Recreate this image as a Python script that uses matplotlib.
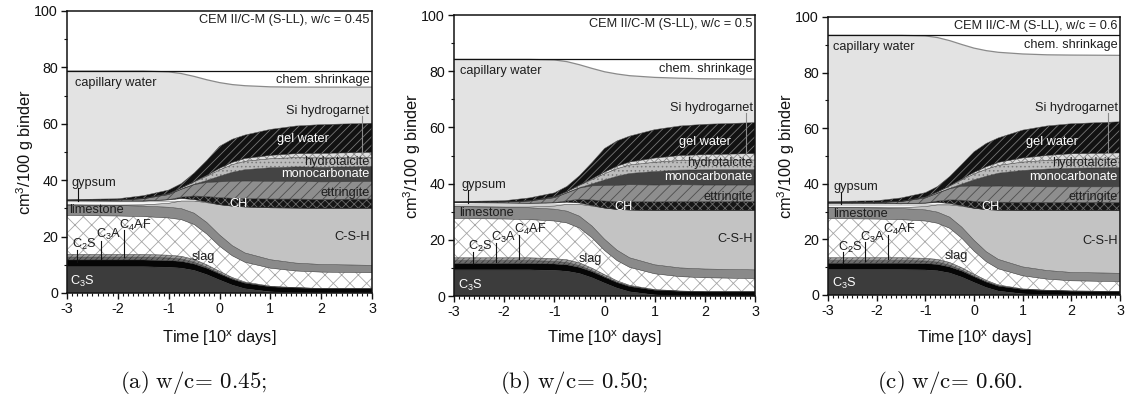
import numpy as np
import matplotlib
matplotlib.use('Agg')
import matplotlib.pyplot as plt

plt.rcParams['font.family'] = ['Liberation Sans', 'DejaVu Sans']
plt.rcParams['mathtext.fontset'] = 'cm'
plt.rcParams['mathtext.default'] = 'regular'
plt.rcParams['hatch.linewidth'] = 0.6

# log10 of hydration time in days
X = [-3, -2, -1.5, -1, -0.75, -0.5, -0.25, 0, 0.25, 0.5, 1, 1.5, 2, 3]

# ---- (a) w/c = 0.45 : phase volumes (cm3/100 g binder), bottom -> top
A_C3S = [9.3, 9.3, 9.3, 9.1, 8.8, 8.0, 6.5, 4.6, 2.8, 1.5, 0.4, 0.1, 0.0, 0.0]
A_C2S = [2.4, 2.4, 2.4, 2.4, 2.4, 2.3, 2.3, 2.2, 2.1, 2.0, 1.8, 1.7, 1.6, 1.5]
A_C3A = [1.0, 1.0, 1.0, 0.9, 0.8, 0.6, 0.3, 0.1, 0, 0, 0, 0, 0, 0]
A_C4AF = [1.0, 1.0, 1.0, 1.0, 1.0, 1.0, 0.9, 0.8, 0.6, 0.4, 0.2, 0.1, 0, 0]
A_SLAG = [13.8, 13.6, 13.4, 13.2, 13.0, 12.4, 10.9, 8.9, 7.7, 7.0, 6.4, 5.9, 5.8, 5.7]
A_LIME = [3.7, 3.7, 3.7, 3.8, 3.9, 4.0, 4.1, 4.0, 3.6, 3.3, 3.0, 2.8, 2.7, 2.6]
A_CSH = [0, 0.1, 0.4, 1.4, 2.7, 4.3, 7.0, 10.7, 14.0, 16.3, 18.4, 19.5, 19.9, 20.2]
A_GYP = [1.5, 1.5, 1.4, 1.2, 0.9, 0.5, 0.2, 0, 0, 0, 0, 0, 0, 0]
A_CH = [0, 0, 0, 0.1, 0.5, 1.3, 2.0, 2.5, 2.8, 3.0, 3.1, 3.2, 3.2, 3.3]
A_ETT = [0.2, 0.4, 0.8, 1.8, 2.8, 4.0, 5.0, 5.6, 6.0, 6.2, 6.3, 6.3, 6.2, 6.2]
A_MONO = [0, 0, 0, 0, 0, 0.1, 0.7, 2.0, 3.2, 4.0, 4.8, 5.1, 5.2, 5.3]
A_HT = [0, 0, 0.1, 0.3, 0.5, 0.9, 1.5, 2.2, 2.7, 3.0, 3.2, 3.3, 3.3, 3.3]
A_HG = [0, 0, 0, 0, 0, 0.1, 0.3, 0.6, 0.8, 1.0, 1.2, 1.4, 1.6, 1.8]
A_GEL = [0.2, 0.4, 1.0, 1.3, 1.5, 3.0, 5.3, 7.8, 8.2, 8.3, 9.2, 9.8, 10.2, 10.3]
A_CAP = [45.6, 45.3, 44.2, 41.9, 39.0, 34.3, 28.6, 22.6, 19.4, 17.5, 15.1, 13.8, 13.3, 12.8]
A_SHR = [0, 0, 0, 0.3, 0.9, 1.9, 3.1, 4.1, 4.8, 5.2, 5.6, 5.7, 5.7, 5.7]

# ---- (b) w/c = 0.50
B_C3S = [9.3, 9.3, 9.3, 9.1, 8.8, 8.0, 6.5, 4.6, 2.8, 1.5, 0.4, 0.1, 0.0, 0.0]
B_C2S = [2.3, 2.3, 2.3, 2.3, 2.3, 2.2, 2.2, 2.1, 2.0, 1.9, 1.7, 1.6, 1.5, 1.5]
B_C3A = [1.0, 1.0, 1.0, 0.9, 0.8, 0.6, 0.3, 0.1, 0, 0, 0, 0, 0, 0]
B_C4AF = [1.0, 1.0, 1.0, 1.0, 1.0, 1.0, 0.9, 0.8, 0.6, 0.4, 0.2, 0.1, 0, 0]
B_SLAG = [14.0, 13.8, 13.6, 13.4, 13.1, 12.4, 10.8, 8.6, 7.2, 6.4, 5.6, 5.1, 5.0, 4.7]
B_LIME = [4.2, 4.2, 4.2, 4.2, 4.2, 4.2, 4.2, 4.0, 3.7, 3.4, 3.2, 3.1, 3.1, 3.1]
B_CSH = [0, 0.1, 0.3, 1.1, 2.4, 4.2, 7.1, 11.1, 14.5, 17.0, 19.3, 20.4, 20.8, 21.1]
B_GYP = [1.4, 1.4, 1.3, 1.1, 0.8, 0.5, 0.2, 0, 0, 0, 0, 0, 0, 0]
B_CH = [0, 0, 0, 0.1, 0.5, 1.3, 2.0, 2.5, 2.8, 3.0, 3.1, 3.2, 3.2, 3.2]
B_ETT = [0.2, 0.4, 0.8, 1.8, 2.8, 4.0, 5.0, 5.5, 5.8, 6.0, 6.0, 6.0, 5.9, 5.9]
B_MONO = [0, 0, 0, 0, 0, 0.1, 0.7, 2.0, 3.2, 4.0, 4.8, 5.2, 5.4, 5.5]
B_HT = [0, 0, 0.1, 0.3, 0.5, 0.9, 1.5, 2.2, 2.7, 3.0, 3.3, 3.4, 3.4, 3.4]
B_HG = [0, 0, 0, 0, 0, 0.1, 0.3, 0.6, 0.9, 1.1, 1.5, 1.8, 2.0, 2.3]
B_GEL = [0.2, 0.4, 1.0, 1.4, 1.8, 3.3, 5.8, 8.4, 9.0, 9.2, 10.1, 10.5, 10.8, 11.0]
B_CAP = [50.6, 50.3, 49.3, 47.3, 44.4, 39.5, 33.5, 27.3, 23.8, 21.5, 18.6, 17.0, 16.2, 15.5]
B_SHR = [0, 0, 0, 0.2, 0.8, 1.9, 3.2, 4.4, 5.2, 5.8, 6.4, 6.7, 6.9, 7.0]

# ---- (c) w/c = 0.60
C_C3S = [9.1, 9.1, 9.1, 9.0, 8.7, 7.9, 6.4, 4.5, 2.7, 1.4, 0.4, 0.1, 0.0, 0.0]
C_C2S = [2.3, 2.3, 2.3, 2.3, 2.3, 2.2, 2.2, 2.1, 2.0, 1.8, 1.6, 1.5, 1.4, 1.3]
C_C3A = [1.0, 1.0, 1.0, 0.9, 0.8, 0.6, 0.3, 0.1, 0, 0, 0, 0, 0, 0]
C_C4AF = [1.0, 1.0, 1.0, 1.0, 1.0, 1.0, 0.9, 0.8, 0.6, 0.4, 0.2, 0.1, 0, 0]
C_SLAG = [14.1, 13.9, 13.7, 13.4, 13.0, 12.3, 10.6, 8.3, 6.7, 5.8, 4.7, 4.0, 3.7, 3.5]
C_LIME = [4.0, 4.0, 4.0, 4.0, 4.0, 4.0, 4.0, 3.9, 3.6, 3.4, 3.2, 3.1, 3.0, 3.0]
C_CSH = [0, 0.1, 0.3, 1.2, 2.6, 4.4, 7.5, 11.5, 15.1, 17.7, 20.2, 21.5, 22.2, 22.5]
C_GYP = [1.5, 1.5, 1.4, 1.2, 0.9, 0.5, 0.2, 0, 0, 0, 0, 0, 0, 0]
C_CH = [0, 0, 0, 0.1, 0.5, 1.3, 2.0, 2.5, 2.7, 2.9, 3.0, 3.0, 3.0, 3.0]
C_ETT = [0.2, 0.4, 0.8, 1.8, 2.8, 4.0, 5.0, 5.5, 5.7, 5.8, 5.7, 5.6, 5.6, 5.6]
C_MONO = [0, 0, 0, 0, 0, 0.1, 0.8, 2.2, 3.6, 4.6, 5.8, 6.4, 6.7, 6.9]
C_HT = [0, 0, 0.1, 0.3, 0.5, 0.9, 1.5, 2.1, 2.5, 2.8, 3.0, 3.1, 3.2, 3.2]
C_HG = [0, 0, 0, 0, 0, 0.1, 0.3, 0.6, 0.9, 1.1, 1.5, 1.8, 2.0, 2.1]
C_GEL = [0.4, 0.6, 1.2, 1.6, 1.9, 3.3, 5.3, 7.4, 8.4, 8.8, 10.0, 10.6, 10.8, 11.2]
C_CAP = [59.8, 59.5, 58.5, 56.4, 53.6, 48.9, 43.1, 37.3, 33.4, 30.8, 27.4, 25.6, 24.7, 23.9]
C_SHR = [0, 0, 0, 0.2, 0.8, 1.9, 3.3, 4.6, 5.5, 6.1, 6.7, 7.0, 7.1, 7.2]

TITLES = ['CEM II/C-M (S-LL), w/c = 0.45', 'CEM II/C-M (S-LL), w/c = 0.5',
          'CEM II/C-M (S-LL), w/c = 0.6']
CAPTIONS = [r'$\mathrm{(a)\ w/c\!=\!\ 0.45;}$', r'$\mathrm{(b)\ w/c\!=\!\ 0.50;}$',
            r'$\mathrm{(c)\ w/c\!=\!\ 0.60.}$']

# phase styles: facecolor, hatch, hatch colour
STYLE = [
    ('#3c3c3c', None, None),          # C3S
    ('#060606', None, None),          # C2S
    ('#6c6c6c', '//////', '#3a3a3a'), # C3A
    ('#9a9a9a', '//////', '#5a5a5a'), # C4AF
    ('#ffffff', 'xx', '#a6a6a6'),     # slag
    ('#8a8a8a', None, None),          # limestone
    ('#c3c3c3', None, None),          # C-S-H
    ('#f6f6f6', '-----', '#a0a0a0'),  # gypsum
    ('#151515', 'xxxx', '#6a6a6a'),   # CH
    ('#8e8e8e', '///', '#4e4e4e'),    # ettringite
    ('#444444', None, None),          # monocarbonate
    ('#bcbcbc', '....', '#7a7a7a'),   # hydrotalcite
    ('#dedede', 'xxxx', '#8a8a8a'),   # Si hydrogarnet
    ('#121212', '////', '#777777'),   # gel water
    ('#e3e3e3', None, None),          # capillary water
    ('#ffffff', None, None),          # chem. shrinkage
]

PANELS = [
    [A_C3S, A_C2S, A_C3A, A_C4AF, A_SLAG, A_LIME, A_CSH, A_GYP, A_CH, A_ETT,
     A_MONO, A_HT, A_HG, A_GEL, A_CAP, A_SHR],
    [B_C3S, B_C2S, B_C3A, B_C4AF, B_SLAG, B_LIME, B_CSH, B_GYP, B_CH, B_ETT,
     B_MONO, B_HT, B_HG, B_GEL, B_CAP, B_SHR],
    [C_C3S, C_C2S, C_C3A, C_C4AF, C_SLAG, C_LIME, C_CSH, C_GYP, C_CH, C_ETT,
     C_MONO, C_HT, C_HG, C_GEL, C_CAP, C_SHR],
]

AX_RECTS = [(0.0596, 0.2657, 0.2711, 0.7068),
            (0.4036, 0.2581, 0.2676, 0.7043),
            (0.7360, 0.2607, 0.2596, 0.6967)]
YLAB_X = [25, 412, 786]
CAP_X = [194, 574, 950]

# label placements per panel: text, x, y, ha, colour
DARK, WHITE = '#1e1e1e', 'white'
LABELS = [
    [('capillary water', -2.85, 74.6, 'left', DARK), ('chem. shrinkage', 2.95, 75.6, 'right', DARK),
     ('Si hydrogarnet', 2.95, 64.6, 'right', DARK), ('gel water', 1.65, 54.6, 'center', WHITE),
     ('hydrotalcite', 2.95, 46.4, 'right', DARK), ('monocarbonate', 2.95, 42.2, 'right', WHITE),
     ('ettringite', 2.95, 35.6, 'right', DARK), ('CH', 0.38, 31.6, 'center', WHITE),
     ('C-S-H', 2.95, 19.8, 'right', DARK), ('slag', -0.32, 12.9, 'center', DARK),
     ('limestone', -2.95, 29.3, 'left', DARK), ('gypsum', -2.92, 39.1, 'left', DARK),
     ('C$_2$S', -2.9, 17.2, 'left', DARK), ('C$_3$A', -2.44, 20.7, 'left', DARK),
     ('C$_4$AF', -1.98, 24.0, 'left', DARK), ('C$_3$S', -2.94, 4.0, 'left', WHITE)],
    [('capillary water', -2.88, 80.1, 'left', DARK), ('chem. shrinkage', 2.95, 80.8, 'right', DARK),
     ('Si hydrogarnet', 2.95, 66.8, 'right', DARK), ('gel water', 2.0, 54.9, 'center', WHITE),
     ('hydrotalcite', 2.95, 47.2, 'right', DARK), ('monocarbonate', 2.95, 42.2, 'right', WHITE),
     ('ettringite', 2.95, 35.3, 'right', DARK), ('CH', 0.38, 31.8, 'center', WHITE),
     ('C-S-H', 2.95, 20.2, 'right', DARK), ('slag', -0.29, 13.0, 'center', DARK),
     ('limestone', -2.9, 29.4, 'left', DARK), ('gypsum', -2.86, 39.5, 'left', DARK),
     ('C$_2$S', -2.72, 17.6, 'left', DARK), ('C$_3$A', -2.26, 20.9, 'left', DARK),
     ('C$_4$AF', -1.80, 23.6, 'left', DARK), ('C$_3$S', -2.92, 3.9, 'left', WHITE)],
    [('capillary water', -2.9, 89.2, 'left', DARK), ('chem. shrinkage', 2.95, 89.9, 'right', DARK),
     ('Si hydrogarnet', 2.95, 67.4, 'right', DARK), ('gel water', 1.6, 55.1, 'center', WHITE),
     ('hydrotalcite', 2.95, 47.3, 'right', DARK), ('monocarbonate', 2.95, 42.3, 'right', WHITE),
     ('ettringite', 2.95, 35.1, 'right', DARK), ('CH', 0.33, 31.5, 'center', WHITE),
     ('C-S-H', 2.95, 19.5, 'right', DARK), ('slag', -0.37, 14.0, 'center', DARK),
     ('limestone', -2.9, 29.0, 'left', DARK), ('gypsum', -2.88, 38.9, 'left', DARK),
     ('C$_2$S', -2.8, 17.1, 'left', DARK), ('C$_3$A', -2.35, 20.7, 'left', DARK),
     ('C$_4$AF', -1.87, 23.4, 'left', DARK), ('C$_3$S', -2.92, 4.2, 'left', WHITE)],
]
# leader lines: x, y0, y1
LEADERS = [
    [(-2.78, 37.3, 32.6), (-2.81, 15.3, 11.1), (-2.34, 18.3, 11.9), (-1.87, 22.3, 12.7)],
    [(-2.73, 37.6, 33.0), (-2.63, 15.7, 11.4), (-2.17, 19.0, 12.2), (-1.70, 21.8, 13.0)],
    [(-2.73, 37.0, 32.8), (-2.70, 15.4, 11.2), (-2.25, 18.9, 12.2), (-1.77, 21.6, 13.0)],
]
HG_LEADER = [(2.80, 62.8, 50.0), (2.81, 65.0, 50.8), (2.76, 65.6, 51.2)]

fig = plt.figure(figsize=(11.25, 3.99), dpi=100)
W, H = 1125, 399

for k, phases in enumerate(PANELS):
    ax = fig.add_axes(AX_RECTS[k])
    xs = np.array(X, dtype=float)
    low = np.zeros_like(xs)
    tops = []
    for vals, (fc, hatch, hc) in zip(phases, STYLE):
        high = low + np.array(vals, dtype=float)
        ax.fill_between(xs, low, high, facecolor=fc, hatch=hatch,
                        edgecolor=(hc if hc else 'none'), linewidth=0, zorder=1)
        tops.append(high)
        low = high
    # boundaries between phases
    for t in tops[:-2]:
        ax.plot(xs, t, color='#2b2b2b', lw=0.35, zorder=2)
    ax.plot(xs, tops[-2], color='#8a8a8a', lw=0.9, zorder=2)
    ax.plot(xs, tops[-1], color='#111111', lw=0.9, zorder=2)

    for txt, tx, ty, ha, col in LABELS[k]:
        ax.text(tx, ty, txt, ha=ha, va='center', color=col, fontsize=9.2, zorder=4)
    for lx, y0, y1 in LEADERS[k]:
        ax.plot([lx, lx], [y0, y1], color='#111111', lw=0.8, zorder=3)
    lx, y0, y1 = HG_LEADER[k]
    ax.plot([lx, lx], [y0, y1], color='#8a8a8a', lw=0.8, zorder=3)

    ax.text(2.95, 96.8, TITLES[k], ha='right', va='center', color=DARK,
            fontsize=9.2, zorder=4)

    ax.set_xlim(-3, 3)
    ax.set_ylim(0, 100)
    ax.set_xticks([-3, -2, -1, 0, 1, 2, 3])
    ax.set_xticklabels(['-3', '-2', '-1', '0', '1', '2', '3'])
    ax.set_xticks(np.arange(-3, 3.001, 0.1), minor=True)
    ax.set_yticks([0, 20, 40, 60, 80, 100])
    ax.set_yticks([10, 30, 50, 70, 90], minor=True)
    ax.tick_params(which='major', direction='out', length=4.5, width=1.0,
                   labelsize=10.3, pad=2, colors='#111111')
    ax.tick_params(which='minor', direction='out', length=2.5, width=0.8,
                   colors='#111111')
    for sp in ax.spines.values():
        sp.set_linewidth(1.1)
        sp.set_color('#111111')
        sp.set_zorder(5)

    cx = AX_RECTS[k][0] + AX_RECTS[k][2] / 2
    fig.text(cx, 1 - 338 / H, r'Time [10$^x$ days]', ha='center', va='center',
             fontsize=11.8, color='#111111')
    fig.text(YLAB_X[k] / W, AX_RECTS[k][1] + AX_RECTS[k][3] * 0.5,
             r'cm$^3$/100 g binder', rotation=90, ha='center', va='center',
             fontsize=11.8, color='#111111')
    fig.text(CAP_X[k] / W, 1 - 383 / H, CAPTIONS[k], ha='center', va='center',
             fontsize=16.5, color='#111111')

fig.savefig('out.png', dpi=100, facecolor='white')
